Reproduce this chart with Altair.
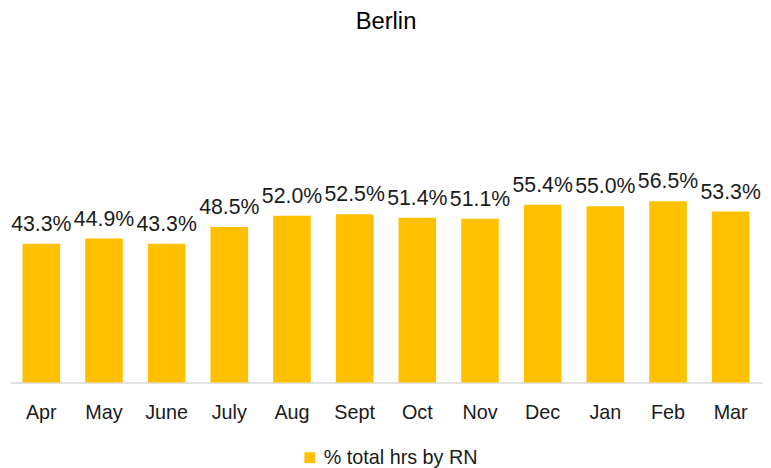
import altair as alt
import pandas as pd

months = ["Apr", "May", "June", "July", "Aug", "Sept", "Oct", "Nov", "Dec", "Jan", "Feb", "Mar"]
values = [43.3, 44.9, 43.3, 48.5, 52.0, 52.5, 51.4, 51.1, 55.4, 55.0, 56.5, 53.3]
series_name = "% total hrs by RN"

df = pd.DataFrame({
    "month": months,
    "value": [v / 100 for v in values],
    "series": [series_name] * len(months),
})

FONT = "Liberation Sans"

x = alt.X("month:N", sort=months, title=None,
          scale=alt.Scale(paddingInner=0.4, paddingOuter=0.2),
          axis=alt.Axis(labelAngle=0, labelFontSize=20, labelFont=FONT, labelColor="#1a1a1a",
                        ticks=False, domainColor="#d9d9d9", domainWidth=1.5, labelPadding=20))
y = alt.Y("value:Q", title=None, scale=alt.Scale(domain=[0, 1]), axis=None)

bars = alt.Chart(df).mark_bar(color="#FFC000").encode(
    x=x, y=y,
    color=alt.Color("series:N", scale=alt.Scale(range=["#FFC000"]),
                    legend=alt.Legend(title=None, orient="none", legendX=293, legendY=390,
                                      symbolType="square", symbolSize=120, labelFontSize=20,
                                      labelFont=FONT, labelColor="#1a1a1a", symbolStrokeWidth=0)),
)

labels = alt.Chart(df).mark_text(baseline="alphabetic", dy=-13, fontSize=21.5, font=FONT, color="#1a1a1a").encode(
    x=alt.X("month:N", sort=months), y=y,
    text=alt.Text("value:Q", format=".1%"),
)

chart = (bars + labels).properties(
    width=760, height=324,
    title=alt.TitleParams("Berlin", fontSize=24, font=FONT, fontWeight="normal", color="#000000",
                          anchor="middle", baseline="alphabetic", offset=9, frame="group"),
    autosize=alt.AutoSizeParams(type="none"),
    padding={"left": 2, "top": 52, "right": 1, "bottom": 84},
).configure_view(stroke=None)

chart.save("out.html", embed_options={"renderer": "svg", "actions": False})
